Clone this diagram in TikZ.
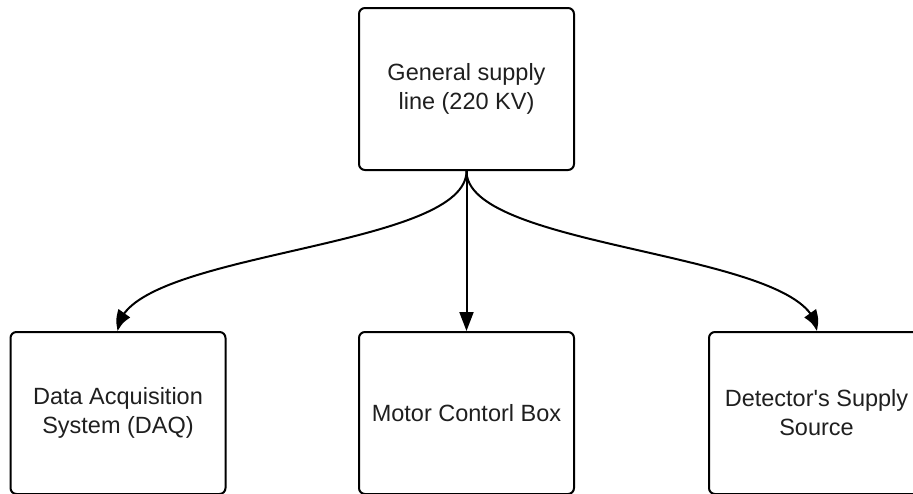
\documentclass[tikz,border=0pt]{standalone}
\usepackage{fontspec}
\setmainfont{Liberation Sans}
\usetikzlibrary{arrows.meta,bending}
\begin{document}
\begin{tikzpicture}[x=1pt,y=-1pt,
  box/.style={draw=black, line width=2pt, rounded corners=6pt, fill=white,
    minimum width=215pt, minimum height=162pt, align=center,
    text=black!88, font=\fontsize{23.5}{29}\selectfont, inner sep=0pt},
  link/.style={draw=black, line width=2pt, -{Triangle[length=19pt,width=14pt,bend]}}]
  \useasboundingbox (0,0) rectangle (913,493);
  \clip (0,0) rectangle (913,493);
  % supply line on top, three consumers below
  \node[box] (supply) at (466.5,89) {General supply\\line (220 KV)};
  \node[box] (daq) at (118,413) {Data Acquisition\\System (DAQ)};
  \node[box] (motor) at (466.5,413) {Motor Contorl Box};
  \node[box] (detector) at (816.5,413) {Detector\textquotesingle s Supply\\Source};
  % feeds
  \draw[link] (supply.south) .. controls +(0,80) and +(0,-80) .. (daq.north);
  \draw[link] (supply.south) -- (motor.north);
  \draw[link] (supply.south) .. controls +(0,80) and +(0,-80) .. (detector.north);
\end{tikzpicture}
\end{document}
